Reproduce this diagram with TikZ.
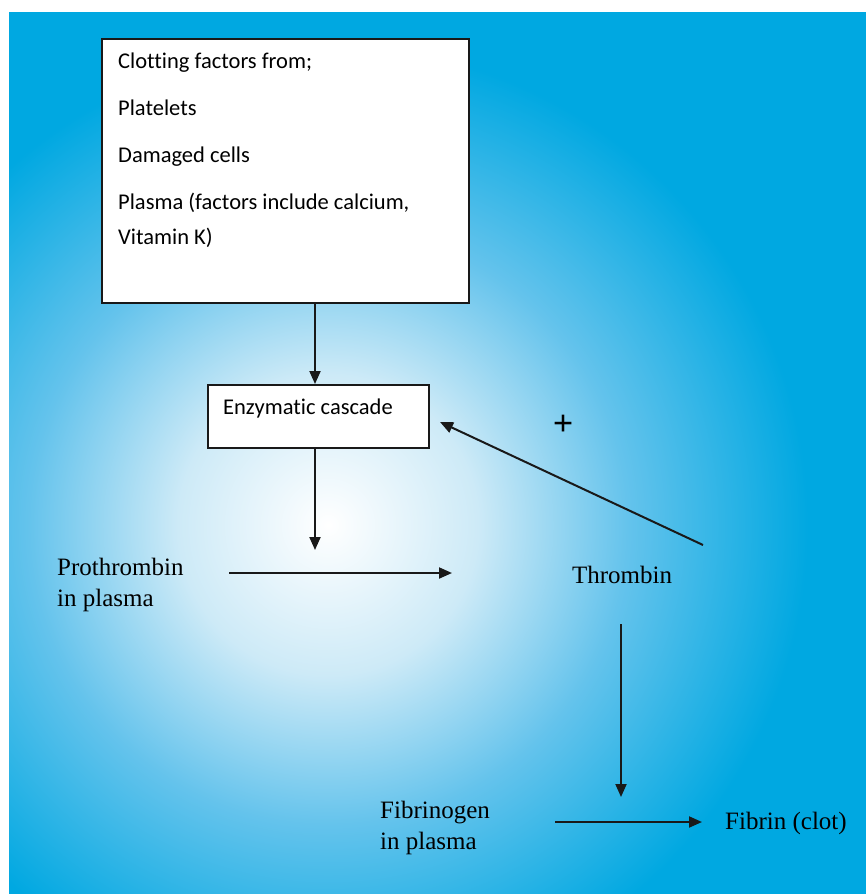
\documentclass[tikz,border=0pt]{standalone}
\usepackage{fontspec}
\setmainfont{Liberation Serif}
\newfontfamily\boxfont[Ligatures=CommonOff]{Carlito}
\usetikzlibrary{positioning,arrows.meta}
\definecolor{bgblue}{RGB}{0,168,225}
\definecolor{glowa}{RGB}{205,234,247}
\definecolor{glowb}{RGB}{100,195,236}
\pgfdeclareradialshading{glow}{\pgfpoint{0bp}{0bp}}{color(0bp)=(white); color(7.5bp)=(glowa); color(15bp)=(glowb); color(24bp)=(bgblue); color(50bp)=(bgblue)}
\tikzset{
  box/.style={draw=black!90, line width=1.8pt, fill=white, anchor=north west},
  boxtxt/.style={font=\boxfont\fontsize{22.5}{35}\selectfont, align=left,
                 inner sep=0pt, anchor=north west},
  term/.style={font=\fontsize{25}{31}\selectfont, align=left, inner sep=0pt},
  flow/.style={-{Triangle[length=13pt,width=11pt]}, line width=2pt, black!90},
}
\begin{document}
\begin{tikzpicture}[x=1pt, y=-1pt]
\useasboundingbox (0,0) rectangle (866,894);

% ---------------------------------------------------------------- background
\fill[bgblue] (9,12) rectangle (866,894);
\begin{scope}
  \clip (9,12) rectangle (866,894);
  \shade[shading=glow] (328,525) circle[radius=500pt];
\end{scope}

% ---------------------------------------------------------------- sources
\node[box, minimum width=367pt, minimum height=264pt] (factors) at (101,38) {};
\node[boxtxt] (factorlist) at (118,53)
  {Clotting factors from;\\[12pt]
   Platelets\\[12pt]
   Damaged cells\\[12pt]
   Plasma (factors include calcium,\\
   Vitamin K)};

% ---------------------------------------------------------------- cascade
\node[box, minimum width=221pt, minimum height=63pt] (cascade) at (207,384) {};
\node[boxtxt] (cascadetxt) at (223,399) {Enzymatic cascade};
\coordinate (feed) at (315,302);
\draw[flow] (feed) -- (feed |- cascade.north);

\coordinate (junction) at (315,550);
\draw[flow] (junction |- cascade.south) -- (junction);

% ---------------------------------------------------------------- thrombin
\node[term, anchor=west] (prothrombin) at (57,585) {Prothrombin\\in plasma};
\node[term] (thrombin) at (622,575) {Thrombin};
\coordinate (protail) at (229,573);
\coordinate (prohead) at (452,573);
\draw[flow] (protail) -- (prohead);

% feedback
\coordinate (backtail) at (703,545);
\coordinate (backhead) at (440,422);
\draw[flow] (backtail) -- (backhead);
\node[font=\bfseries\fontsize{36}{36}\selectfont, inner sep=0pt] (plus) at (563,425) {+};

% ---------------------------------------------------------------- fibrin
\node[term, anchor=west] (fibrinogen) at (380,828) {Fibrinogen\\in plasma};
\node[term, anchor=west] (fibrin) at (725,823) {Fibrin (clot)};
\coordinate (thrtail) at (621,624);
\coordinate (thrhead) at (621,797);
\draw[flow] (thrtail) -- (thrhead);
\coordinate (fibtail) at (555,822);
\draw[flow, shorten >=23pt] (fibtail) -- (fibtail -| fibrin.west);

\end{tikzpicture}
\end{document}
